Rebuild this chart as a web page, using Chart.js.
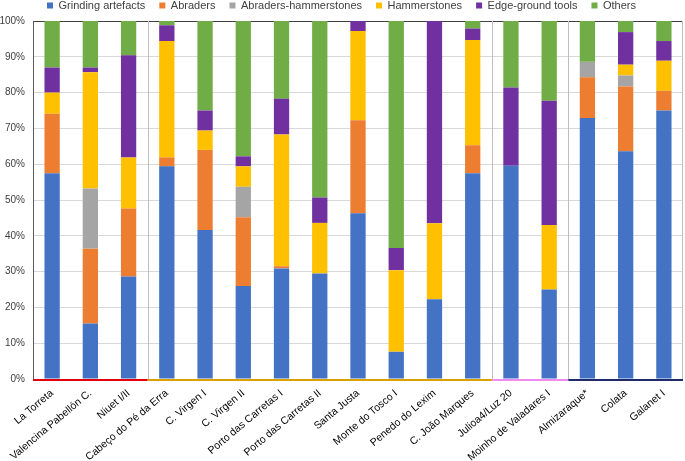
<!DOCTYPE html>
<html><head><meta charset="utf-8">
<script src="https://cdn.jsdelivr.net/npm/chart.js@4/dist/chart.umd.min.js"></script>
<style>html,body{margin:0;padding:0;background:#fff}#wrap{width:685px;height:461px}</style>
</head><body><div id="wrap"><canvas id="c" width="685" height="461"></canvas></div>
<script>
const categories = ["La Torreta","Valencina Pabellón C.","Niuet I/II","Cabeço do Pé da Erra","C. Virgen I","C. Virgen II","Porto das Carretas I","Porto das Carretas II","Santa Justa","Monte do Tosco I","Penedo do Lexim","C. João Marques","Julioa4/Luz 20","Moinho de Valadares I","Almizaraque*","Colata","Galanet I"];
const grinding     = [57.5,15.5,28.6,59.4,41.6,26.0,30.9,29.5,46.3, 7.6,22.3,57.5,59.6,25.0,72.9,63.6,75.0];
const abraders     = [16.6,20.9,19.0, 2.5,22.4,19.2, 0.6, 0.0,26.0, 0.0, 0.0, 7.8, 0.0, 0.0,11.4,18.1, 5.5];
const abradersHam  = [ 0.0,16.8, 0.0, 0.0, 0.0, 8.5, 0.0, 0.0, 0.0, 0.0, 0.0, 0.0, 0.0, 0.0, 4.3, 3.1, 0.0];
const hammerstones = [ 5.9,32.5,14.3,32.5, 5.4, 5.7,36.8,14.1,24.9,22.8,21.2,29.4, 0.0,18.0, 0.0, 3.0, 8.4];
const edgeGround   = [ 7.0, 1.3,28.5, 4.4, 5.6, 2.8,10.0, 7.1, 2.8, 6.2,56.5, 3.2,21.8,34.7, 0.0, 9.1, 5.5];
const others       = [13.0,13.0, 9.6, 1.2,25.0,37.8,21.7,49.3, 0.0,63.4, 0.0, 2.1,18.6,22.3,11.4, 3.1, 5.6];
const yTicks = [0,10,20,30,40,50,60,70,80,90,100];
// groups: first and last category index, underline colour
const groupStart = [0,3,12,14];
const groupEnd   = [2,11,13,16];
const groupColor = ["#e3000f","#d9a000","#f08cf0","#1f2a6b"];

const groupPlugin = {
  id:'groups',
  afterDatasetsDraw(chart){
    const {ctx, chartArea:a, scales:{x}} = chart;
    const half = (x.getPixelForValue(1)-x.getPixelForValue(0))/2;
    ctx.save();
    ctx.strokeStyle = '#bfbfbf'; ctx.lineWidth = 1;
    for (let g=1; g<groupStart.length; g++){
      const px = Math.round(x.getPixelForValue(groupStart[g]) - half)+0.5;
      ctx.beginPath(); ctx.moveTo(px,a.top); ctx.lineTo(px,a.bottom+1); ctx.stroke();
    }
    const rx = Math.round(x.getPixelForValue(groupEnd[groupEnd.length-1]) + half)-0.5;
    ctx.beginPath(); ctx.moveTo(rx,a.top); ctx.lineTo(rx,a.bottom); ctx.stroke();
    ctx.lineWidth = 2;
    for (let g=0; g<groupStart.length; g++){
      ctx.strokeStyle = groupColor[g];
      const x0 = x.getPixelForValue(groupStart[g]) - half;
      const x1 = x.getPixelForValue(groupEnd[g]) + half;
      ctx.beginPath(); ctx.moveTo(x0,a.bottom+1); ctx.lineTo(x1,a.bottom+1); ctx.stroke();
    }
    ctx.restore();
  }
};

const mk = (label,data,color)=>({label,data,backgroundColor:color,borderWidth:0,barPercentage:0.4,categoryPercentage:1});
new Chart(document.getElementById('c'),{
  type:'bar',
  data:{labels:categories,datasets:[
    mk('Grinding artefacts',grinding,'#4472C4'),
    mk('Abraders',abraders,'#ED7D31'),
    mk('Abraders-hammerstones',abradersHam,'#A5A5A5'),
    mk('Hammerstones',hammerstones,'#FFC000'),
    mk('Edge-ground tools',edgeGround,'#7030A0'),
    mk('Others',others,'#70AD47')
  ]},
  options:{
    responsive:false,animation:false,
    layout:{padding:{left:0,right:2,top:-14,bottom:0}},
    plugins:{
      legend:{position:'top',labels:{boxWidth:6,boxHeight:6,font:{family:'Liberation Sans, Arial',size:11},color:'#404040',padding:14}},
      tooltip:{enabled:false}
    },
    scales:{
      x:{stacked:true,grid:{display:false,drawTicks:false},border:{display:false},
         afterFit:(s)=>{s.height=82;},
         ticks:{maxRotation:40,minRotation:40,autoSkip:false,padding:8,font:{family:'Liberation Sans, Arial',size:10.5},color:'#000'}},
      y:{stacked:true,min:0,max:100,afterBuildTicks:(s)=>{s.ticks=yTicks.map(v=>({value:v}));},
         afterFit:(s)=>{s.width=33;},
         grid:{color:(c)=>c.tick && c.tick.value===100?'#404040':'#d9d9d9',drawTicks:false},
         border:{display:true,color:'#595959'},
         ticks:{padding:8,callback:(v)=>v+'%',font:{family:'Liberation Sans, Arial',size:10},color:'#404040'}}
    }
  },
  plugins:[groupPlugin]
});
</script></body></html>
